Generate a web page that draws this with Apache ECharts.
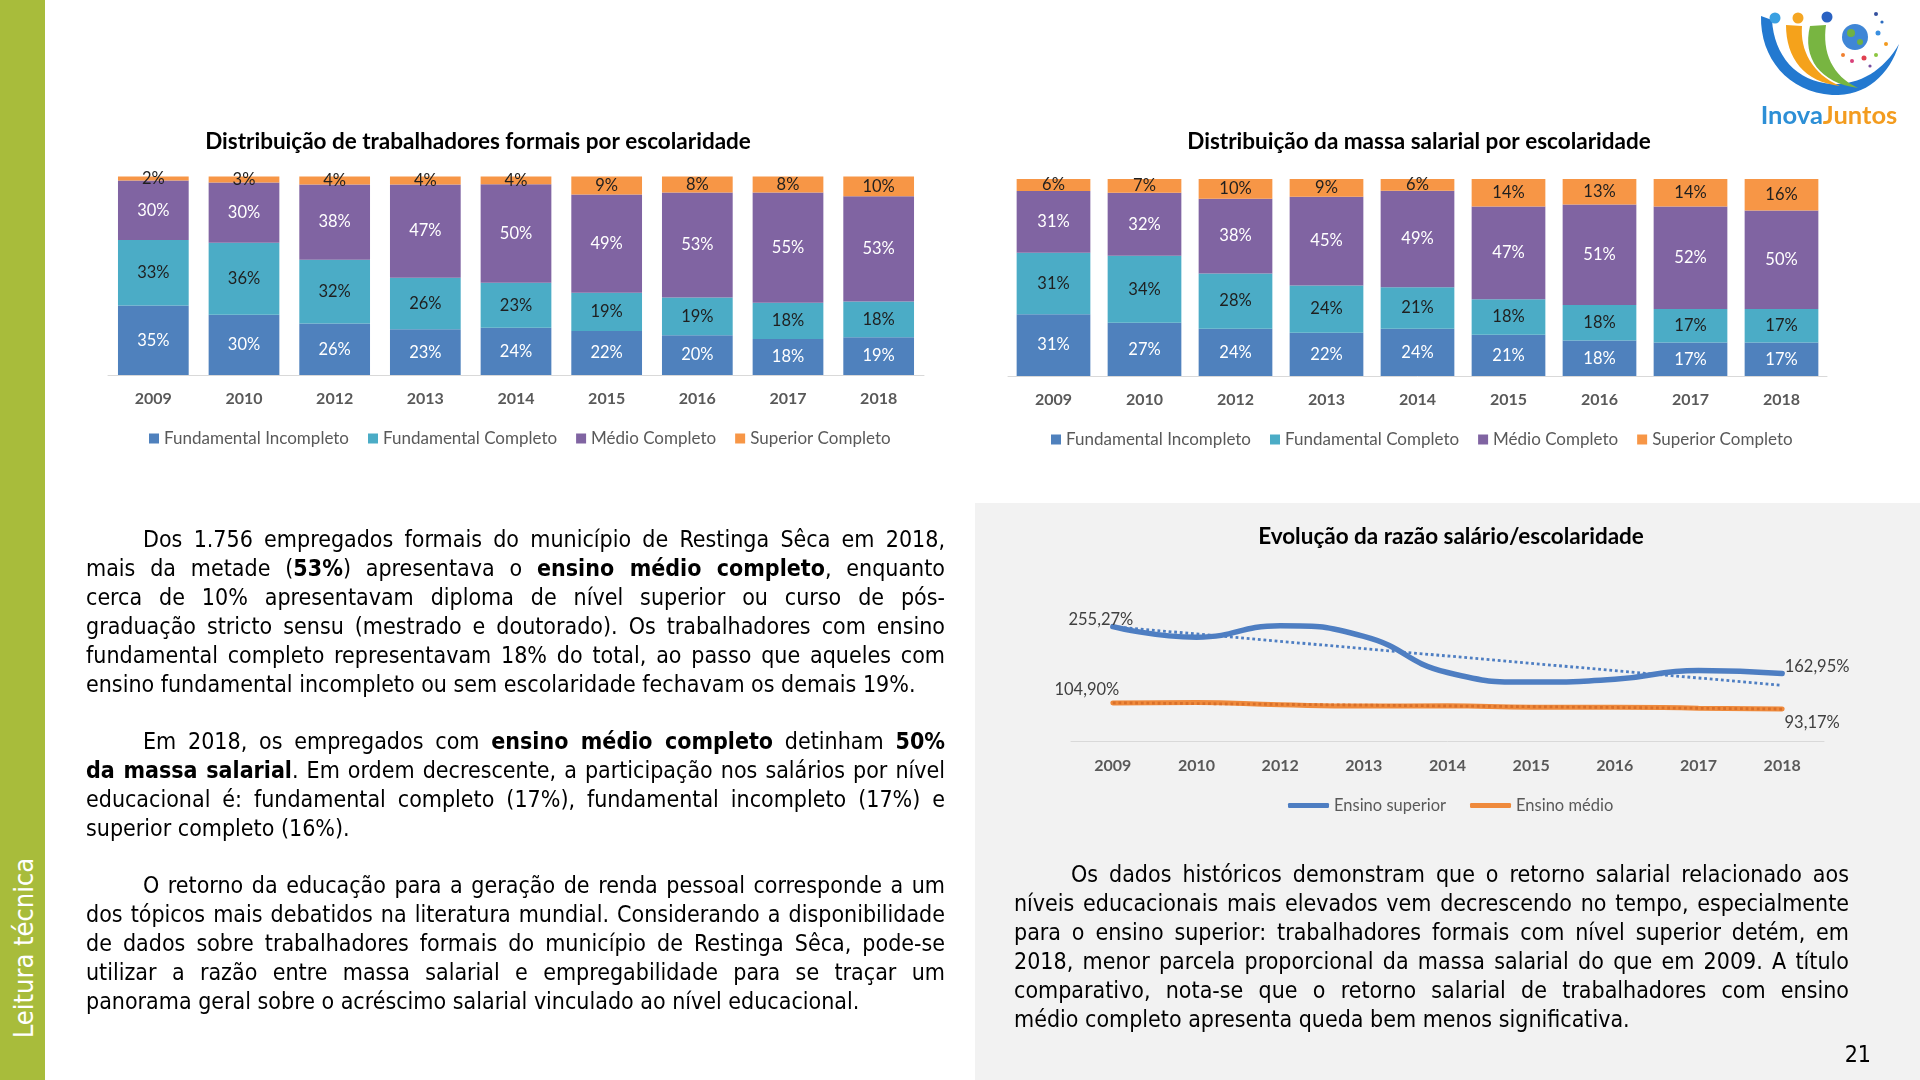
<!DOCTYPE html>
<html>
<head>
<meta charset="utf-8">
<script src="https://cdn.jsdelivr.net/npm/echarts@6/dist/echarts.min.js"></script>
<style>
html,body{margin:0;padding:0;width:1920px;height:1080px;overflow:hidden;background:#ffffff;}
#side{position:absolute;left:0;top:0;width:45px;height:1080px;background:#a8bc3b;}
#sideText{position:absolute;left:23px;top:948px;transform:translate(-50%,-50%) rotate(-90deg);color:#ffffff;
  font-family:"DejaVu Sans Condensed","DejaVu Sans",sans-serif;font-stretch:condensed;font-size:27px;white-space:nowrap;}
#panel{position:absolute;left:975px;top:503px;width:945px;height:577px;background:#f2f2f2;}
#chart{position:absolute;left:0;top:0;width:1920px;height:1080px;z-index:1;}
.txt{position:absolute;z-index:2;font-family:"DejaVu Sans Condensed","DejaVu Sans",sans-serif;font-stretch:condensed;
  font-size:23px;line-height:29px;color:#000000;}
.txt div{white-space:nowrap;text-align:justify;text-align-last:justify;}
.txt div.last{text-align-last:left;}
.txt div.ind{text-indent:57px;}
#pnum{position:absolute;z-index:2;right:49px;top:1041px;font-family:"DejaVu Sans Condensed","DejaVu Sans",sans-serif;font-stretch:condensed;font-size:23px;color:#000;}
</style>
</head>
<body>
<div id="side"><div id="sideText">Leitura técnica</div></div>
<div id="panel"></div>
<div id="chart"></div>

<div class="txt" style="left:86px;top:525px;width:859px;">
<div class="ind">Dos 1.756 empregados formais do município de Restinga Sêca em 2018,</div>
<div>mais da metade (<b>53%</b>) apresentava o <b>ensino médio completo</b>, enquanto</div>
<div>cerca de 10% apresentavam diploma de nível superior ou curso de pós-</div>
<div>graduação stricto sensu (mestrado e doutorado). Os trabalhadores com ensino</div>
<div>fundamental completo representavam 18% do total, ao passo que aqueles com</div>
<div class="last">ensino fundamental incompleto ou sem escolaridade fechavam os demais 19%.</div>
</div>

<div class="txt" style="left:86px;top:727px;width:859px;">
<div class="ind">Em 2018, os empregados com <b>ensino médio completo</b> detinham <b>50%</b></div>
<div><b>da massa salarial</b>. Em ordem decrescente, a participação nos salários por nível</div>
<div>educacional é: fundamental completo (17%), fundamental incompleto (17%) e</div>
<div class="last">superior completo (16%).</div>
</div>

<div class="txt" style="left:86px;top:871px;width:859px;">
<div class="ind">O retorno da educação para a geração de renda pessoal corresponde a um</div>
<div>dos tópicos mais debatidos na literatura mundial. Considerando a disponibilidade</div>
<div>de dados sobre trabalhadores formais do município de Restinga Sêca, pode-se</div>
<div>utilizar a razão entre massa salarial e empregabilidade para se traçar um</div>
<div class="last">panorama geral sobre o acréscimo salarial vinculado ao nível educacional.</div>
</div>

<div class="txt" style="left:1014px;top:860px;width:835px;">
<div class="ind">Os dados históricos demonstram que o retorno salarial relacionado aos</div>
<div>níveis educacionais mais elevados vem decrescendo no tempo, especialmente</div>
<div>para o ensino superior: trabalhadores formais com nível superior detém, em</div>
<div>2018, menor parcela proporcional da massa salarial do que em 2009. A título</div>
<div>comparativo, nota-se que o retorno salarial de trabalhadores com ensino</div>
<div class="last">médio completo apresenta queda bem menos significativa.</div>
</div>

<div id="pnum">21</div>

<script>
// ---------------- DATA ----------------
const years = ['2009', '2010', '2012', '2013', '2014', '2015', '2016', '2017', '2018'];
const seriesNames = ['Fundamental Incompleto', 'Fundamental Completo', 'Médio Completo', 'Superior Completo'];

// Distribuição de trabalhadores formais por escolaridade (%)
const trabFundIncompleto = [35, 30, 26, 23, 24, 22, 20, 18, 19];
const trabFundCompleto   = [33, 36, 32, 26, 23, 19, 19, 18, 18];
const trabMedioCompleto  = [30, 30, 38, 47, 50, 49, 53, 55, 53];
const trabSuperior       = [2, 3, 4, 4, 4, 9, 8, 8, 10];

// Distribuição da massa salarial por escolaridade (%)
const massaFundIncompleto = [31, 27, 24, 22, 24, 21, 18, 17, 17];
const massaFundCompleto   = [31, 34, 28, 24, 21, 18, 18, 17, 17];
const massaMedioCompleto  = [31, 32, 38, 45, 49, 47, 51, 52, 50];
const massaSuperior       = [6, 7, 10, 9, 6, 14, 13, 14, 16];

// Evolução da razão salário/escolaridade (%)
const lineNames = ['Ensino superior', 'Ensino médio'];
const razaoSuperior = [255.27, 234.5, 257, 236, 165, 146, 151.5, 169, 162.95];
const razaoMedio    = [104.90, 106, 101.4, 98.7, 99.4, 96.7, 96.7, 94.7, 93.17];

// ---------------- STYLE ----------------
const FONT = 'Lato, "Open Sans", sans-serif';
const barColors = ['#4f81bd', '#4bacc6', '#8064a2', '#f79646'];
const barLabelColors = ['#ffffff', '#1f1f1f', '#ffffff', '#1f1f1f'];
const lineColors = ['#4e7ec2', '#ef8a3c'];

function normalize(arrs) {
  const totals = arrs[0].map((_, i) => arrs.reduce((s, a) => s + a[i], 0));
  return arrs.map(a => a.map((v, i) => v / totals[i] * 100));
}

function barSeries(raw, idx, gap) {
  const normed = normalize(raw);
  return raw.map((arr, k) => ({
    name: seriesNames[k],
    type: 'bar',
    stack: 'stack' + idx,
    xAxisIndex: idx,
    yAxisIndex: idx,
    barCategoryGap: gap,
    data: normed[k],
    itemStyle: { color: barColors[k] },
    label: {
      show: true, position: 'inside',
      formatter: p => arr[p.dataIndex] + '%',
      color: barLabelColors[k], fontFamily: FONT, fontSize: 16.5
    },
    emphasis: { disabled: true }
  }));
}

function linearTrend(values) {
  const n = values.length, mx = (n - 1) / 2;
  const my = values.reduce((a, b) => a + b, 0) / n;
  let sxy = 0, sxx = 0;
  values.forEach((v, i) => { sxy += (i - mx) * (v - my); sxx += (i - mx) * (i - mx); });
  const b = sxy / sxx;
  return values.map((_, i) => my + b * (i - mx));
}

const fmtPct = v => v.toFixed(2).replace('.', ',') + '%';

function lineData(values, firstLabel, lastLabel) {
  return values.map((v, i) => {
    if (i === 0) return { value: v, label: Object.assign({ show: true }, firstLabel) };
    if (i === values.length - 1) return { value: v, label: Object.assign({ show: true }, lastLabel) };
    return v;
  });
}

// logo helper: closed shape from cubic bezier segments -> polygon points
function bezierShape(start, segs) {
  const pts = [start];
  let p0 = start;
  segs.forEach(s => {
    const [c1, c2, p3] = s;
    for (let t = 1; t <= 16; t++) {
      const u = t / 16, m = 1 - u;
      pts.push([
        m * m * m * p0[0] + 3 * m * m * u * c1[0] + 3 * m * u * u * c2[0] + u * u * u * p3[0],
        m * m * m * p0[1] + 3 * m * m * u * c1[1] + 3 * m * u * u * c2[1] + u * u * u * p3[1]
      ]);
    }
    p0 = p3;
  });
  return pts;
}

const catAxis = (gridIndex, margin) => ({
  type: 'category', gridIndex, data: years,
  axisLine: { lineStyle: { color: '#d9d9d9', width: 1 } },
  axisTick: { show: false },
  axisLabel: { color: '#595959', fontWeight: 'bold', fontFamily: FONT, fontSize: 16, margin }
});

const legendBase = {
  itemWidth: 10, itemHeight: 10, itemGap: 19, icon: 'rect', padding: 0,
  textStyle: { color: '#595959', fontFamily: FONT, fontSize: 17 },
  selectedMode: false
};

const option = {
  backgroundColor: 'transparent',
  animation: false,
  grid: [
    { left: 108, top: 176.5, width: 816, height: 198.5 },
    { left: 1008, top: 179, width: 819, height: 197 },
    { left: 1071, top: 609, width: 753, height: 132 }
  ],
  xAxis: [catAxis(0, 16), catAxis(1, 16), catAxis(2, 17)],
  yAxis: [
    { type: 'value', gridIndex: 0, min: 0, max: 100, show: false },
    { type: 'value', gridIndex: 1, min: 0, max: 100, show: false },
    { type: 'value', gridIndex: 2, min: 30, max: 290, show: false }
  ],
  legend: [
    Object.assign({}, legendBase, { data: seriesNames, left: 149, top: 430 }),
    Object.assign({}, legendBase, { data: seriesNames, left: 1051, top: 431 }),
    {
      data: lineNames, left: 1288, top: 797, padding: 0, icon: 'roundRect', itemWidth: 41, itemHeight: 5, itemGap: 24,
      textStyle: { color: '#595959', fontFamily: FONT, fontSize: 16.5 }, selectedMode: false
    }
  ],
  series: [].concat(
    barSeries([trabFundIncompleto, trabFundCompleto, trabMedioCompleto, trabSuperior], 0, '22%'),
    barSeries([massaFundIncompleto, massaFundCompleto, massaMedioCompleto, massaSuperior], 1, '19%'),
    [
      {
        name: lineNames[0], type: 'line', xAxisIndex: 2, yAxisIndex: 2, smooth: true,
        symbol: 'circle', symbolSize: 1, z: 3,
        lineStyle: { color: lineColors[0], width: 5.5, cap: 'round' },
        itemStyle: { color: lineColors[0] },
        label: { show: false, formatter: p => fmtPct(p.value), color: '#404040', fontFamily: FONT, fontSize: 16.5 },
        data: lineData(razaoSuperior,
          { position: 'top', offset: [-12, 7] },
          { position: 'right', offset: [-3, -7] })
      },
      {
        name: lineNames[1], type: 'line', xAxisIndex: 2, yAxisIndex: 2, smooth: true,
        symbol: 'circle', symbolSize: 1, z: 3,
        lineStyle: { color: lineColors[1], width: 5, cap: 'round' },
        itemStyle: { color: lineColors[1] },
        label: { show: false, formatter: p => fmtPct(p.value), color: '#404040', fontFamily: FONT, fontSize: 16.5 },
        data: lineData(razaoMedio,
          { position: 'top', offset: [-26, 1] },
          { position: 'bottom', offset: [30, 0] })
      },
      {
        name: 'Linear (Ensino superior)', type: 'line', xAxisIndex: 2, yAxisIndex: 2,
        symbol: 'none', silent: true, z: 4,
        lineStyle: { color: lineColors[0], width: 2.8, type: 'dotted' },
        data: linearTrend(razaoSuperior)
      },
      {
        name: 'Linear (Ensino médio)', type: 'line', xAxisIndex: 2, yAxisIndex: 2,
        symbol: 'none', silent: true, z: 4,
        lineStyle: { color: '#d9702a', width: 2.8, type: 'dotted' },
        data: linearTrend(razaoMedio)
      }
    ]
  ),
  graphic: [
    { type: 'text', x: 478, y: 142, style: { text: 'Distribuição de trabalhadores formais por escolaridade', fill: '#000', font: 'bold 22.5px ' + FONT, textAlign: 'center', textVerticalAlign: 'middle' } },
    { type: 'text', x: 1419, y: 142, style: { text: 'Distribuição da massa salarial por escolaridade', fill: '#000', font: 'bold 22.5px ' + FONT, textAlign: 'center', textVerticalAlign: 'middle' } },
    { type: 'text', x: 1451, y: 537, style: { text: 'Evolução da razão salário/escolaridade', fill: '#000', font: 'bold 22.5px ' + FONT, textAlign: 'center', textVerticalAlign: 'middle' } },
    // logo
    { type: 'polygon', shape: { points: bezierShape([1761, 16], [
        [[1760, 58], [1788, 92], [1832, 95]], [[1866, 97], [1890, 74], [1899, 44]],
        [[1884, 70], [1860, 85], [1832, 84]], [[1796, 82], [1774, 55], [1772, 20]]]) },
      style: { fill: '#2379d0' } },
    { type: 'polygon', shape: { points: bezierShape([1786, 25], [
        [[1786, 58], [1804, 82], [1840, 86]], [[1812, 74], [1800, 50], [1802, 26]]]) }, style: { fill: '#f5a21b' } },
    { type: 'polygon', shape: { points: bezierShape([1810, 26], [
        [[1802, 58], [1820, 83], [1858, 88]], [[1832, 76], [1822, 52], [1826, 25]]]) }, style: { fill: '#78b541' } },
    { type: 'circle', shape: { cx: 1775, cy: 18, r: 5.5 }, style: { fill: '#3aa0e2' } },
    { type: 'circle', shape: { cx: 1798, cy: 18, r: 5.5 }, style: { fill: '#f5a623' } },
    { type: 'circle', shape: { cx: 1827, cy: 17, r: 5.5 }, style: { fill: '#2a62c2' } },
    { type: 'circle', shape: { cx: 1855, cy: 37, r: 13 }, style: { fill: '#3f86d6' } },
    { type: 'circle', shape: { cx: 1851, cy: 33, r: 4 }, style: { fill: '#6fb144' } },
    { type: 'circle', shape: { cx: 1860, cy: 42, r: 3 }, style: { fill: '#6fb144' } },
    { type: 'circle', shape: { cx: 1876, cy: 14, r: 2 }, style: { fill: '#34509e' } },
    { type: 'circle', shape: { cx: 1882, cy: 22, r: 1.6 }, style: { fill: '#2a6cc0' } },
    { type: 'circle', shape: { cx: 1878, cy: 33, r: 2.5 }, style: { fill: '#3a8fe0' } },
    { type: 'circle', shape: { cx: 1886, cy: 44, r: 2 }, style: { fill: '#f39a1e' } },
    { type: 'circle', shape: { cx: 1876, cy: 55, r: 2 }, style: { fill: '#8cc63f' } },
    { type: 'circle', shape: { cx: 1864, cy: 58, r: 2.5 }, style: { fill: '#e04050' } },
    { type: 'circle', shape: { cx: 1852, cy: 61, r: 2 }, style: { fill: '#d8407a' } },
    { type: 'circle', shape: { cx: 1843, cy: 55, r: 2 }, style: { fill: '#f08030' } },
    { type: 'circle', shape: { cx: 1870, cy: 66, r: 1.6 }, style: { fill: '#7a4fa0' } },
    { type: 'text', x: 1829, y: 116, style: {
        text: '{a|Inova}{b|Juntos}', textAlign: 'center', textVerticalAlign: 'middle',
        rich: { a: { fill: '#2d8fd6', font: 'bold 25.5px ' + FONT }, b: { fill: '#f39c1f', font: 'bold 25.5px ' + FONT } }
      } }
  ]
};

const chart = echarts.init(document.getElementById('chart'));
chart.setOption(option);
</script>
</body>
</html>
